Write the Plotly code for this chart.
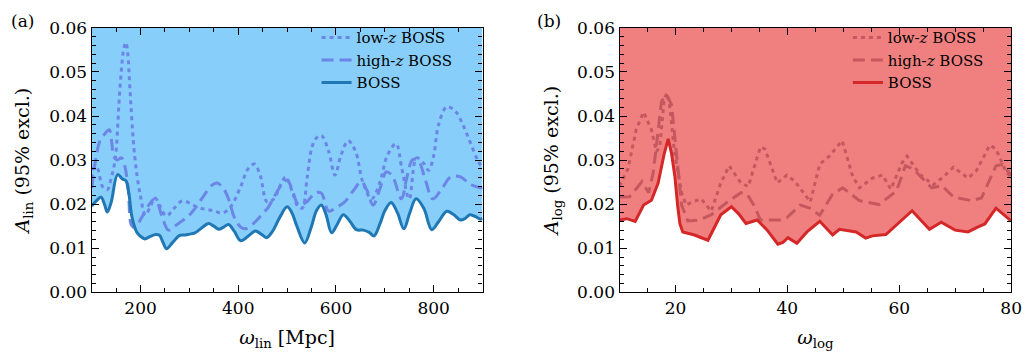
import plotly.graph_objects as go

# ---------------- data: panel (a) linear oscillations ----------------
lin_boss_x = [100,110,119,126,132,140,153,163,170,176,182,192,200,209,220,232,239,246,253,265,280,292,300,310,325,339,350,360,370,380,392,405,420,435,447,458,470,485,500,510,520,536,550,560,570,580,591,603,615,628,642,656,668,678,690,700,713,726,739,751,764,780,796,810,827,840,855,865,874,885,896,900]
lin_boss_y = [0.0196,0.0208,0.0216,0.0200,0.0182,0.0205,0.0267,0.0257,0.0253,0.0225,0.0173,0.0137,0.0127,0.0121,0.0127,0.0131,0.0129,0.0113,0.0099,0.0112,0.0129,0.0130,0.0132,0.0134,0.0146,0.0156,0.0150,0.0143,0.0148,0.0154,0.0138,0.0117,0.0127,0.0139,0.0132,0.0124,0.0138,0.0170,0.0194,0.0180,0.0150,0.0112,0.0150,0.0185,0.0198,0.0175,0.0135,0.0155,0.0176,0.0162,0.0142,0.0141,0.0136,0.0128,0.0155,0.0185,0.0204,0.0180,0.0144,0.0180,0.0212,0.0190,0.0142,0.0160,0.0184,0.0177,0.0164,0.0168,0.0176,0.0172,0.0166,0.0168]

lin_lowz_x = [100,105,112,122,132,140,148,158,166,170,174,178,188,199,210,220,230,240,253,268,285,300,318,335,350,368,385,405,420,433,445,459,473,487,497,510,522,531,541,551,560,570,585,598,610,625,640,655,673,690,705,723,735,750,765,780,790,800,810,827,845,860,875,890,900]
lin_lowz_y = [0.0240,0.0285,0.0280,0.0240,0.0233,0.0260,0.0301,0.0466,0.0555,0.0567,0.0540,0.0466,0.0309,0.0223,0.0175,0.0195,0.0214,0.0195,0.0173,0.0190,0.0207,0.0203,0.0192,0.0188,0.0185,0.0180,0.0195,0.0240,0.0280,0.0291,0.0265,0.0205,0.0212,0.0245,0.0262,0.0230,0.0195,0.0191,0.0260,0.0330,0.0350,0.0356,0.0320,0.0266,0.0310,0.0344,0.0320,0.0250,0.0212,0.0250,0.0310,0.0337,0.0280,0.0212,0.0305,0.0292,0.0277,0.0310,0.0380,0.0421,0.0410,0.0380,0.0340,0.0300,0.0282]

lin_highz_x = [100,108,117,127,136,141,145,152,161,168,175,182,190,200,215,230,243,257,270,285,300,314,330,345,357,370,381,392,405,415,430,445,462,475,489,500,510,524,540,558,570,585,600,618,635,652,664,676,690,703,715,734,745,757,768,783,798,815,835,855,875,896,900]
lin_highz_y = [0.0237,0.0300,0.0344,0.0360,0.0369,0.0340,0.0309,0.0300,0.0305,0.0285,0.0230,0.0151,0.0147,0.0165,0.0195,0.0213,0.0175,0.0141,0.0150,0.0162,0.0175,0.0194,0.0220,0.0242,0.0248,0.0235,0.0209,0.0170,0.0148,0.0144,0.0155,0.0172,0.0194,0.0220,0.0244,0.0255,0.0234,0.0198,0.0205,0.0226,0.0225,0.0184,0.0192,0.0205,0.0230,0.0251,0.0230,0.0198,0.0235,0.0273,0.0265,0.0212,0.0260,0.0301,0.0300,0.0255,0.0212,0.0232,0.0262,0.0262,0.0245,0.0237,0.0237]

# ---------------- data: panel (b) logarithmic oscillations ----------------
log_boss_x = [10,11.3,12.8,14.3,15.7,16.9,18.0,18.7,19.3,19.9,20.4,20.8,21.3,23.4,25.8,27.0,28.1,30.0,31.3,32.6,34.6,36.4,38.3,39.2,40.1,41.7,43.5,45.8,48.1,49.3,52.3,54.0,55.2,57.6,60.0,62.3,65.4,67.5,70.0,72.3,74.0,75.3,77.3,80]
log_boss_y = [0.0164,0.0167,0.0161,0.0198,0.0209,0.0248,0.0315,0.0348,0.0315,0.0262,0.0195,0.0155,0.0137,0.0130,0.0118,0.0150,0.0176,0.0194,0.0178,0.0156,0.0164,0.0141,0.0109,0.0113,0.0124,0.0111,0.0137,0.0161,0.0130,0.0143,0.0137,0.0123,0.0128,0.0131,0.0158,0.0185,0.0143,0.0159,0.0141,0.0137,0.0148,0.0155,0.0191,0.0162]

log_lowz_x = [10,11.5,13.0,14.3,15.7,16.6,17.2,18.0,18.5,19.0,19.8,21.1,21.9,23.0,24.6,26.4,28.1,29.6,31.7,33.0,35.2,36.0,38.2,39.9,41.4,44.1,45.8,47.5,49.8,51.7,52.9,55.2,57.0,58.5,60.5,61.4,63.8,66.1,67.9,69.7,72.3,73.8,76.2,77.3,79.1,80]
log_lowz_y = [0.0241,0.0280,0.0370,0.0409,0.0369,0.0319,0.0330,0.0440,0.0452,0.0420,0.0320,0.0226,0.0198,0.0205,0.0212,0.0184,0.0248,0.0287,0.0248,0.0240,0.0330,0.0325,0.0248,0.0266,0.0251,0.0205,0.0291,0.0309,0.0344,0.0262,0.0237,0.0259,0.0266,0.0234,0.0294,0.0309,0.0266,0.0244,0.0262,0.0284,0.0259,0.0276,0.0334,0.0325,0.0273,0.0262]

log_highz_x = [10,11.8,13.0,14.0,15.2,16.0,16.6,17.5,18.4,19.3,20.2,21.1,22.2,24.3,26.4,29.3,31.7,32.8,34.0,35.2,38.8,39.9,42.3,44.0,45.8,48.1,49.9,52.9,56.4,58.2,59.5,61.1,62.5,64.1,65.8,67.6,69.7,72.9,74.7,77.3,78.5,80]
log_highz_y = [0.0216,0.0217,0.0235,0.0251,0.0226,0.0270,0.0334,0.0433,0.0449,0.0426,0.0312,0.0198,0.0162,0.0164,0.0176,0.0205,0.0226,0.0223,0.0198,0.0164,0.0164,0.0169,0.0198,0.0191,0.0175,0.0223,0.0237,0.0208,0.0199,0.0216,0.0230,0.0287,0.0280,0.0259,0.0237,0.0242,0.0216,0.0208,0.0214,0.0287,0.0290,0.0265]

Y_MAX = 0.06
y_ticks = [0.00, 0.01, 0.02, 0.03, 0.04, 0.05, 0.06]
lin_ticks = [200, 400, 600, 800]
log_ticks = [20, 40, 60, 80]

FONT = "DejaVu Serif"
W, H = 1033, 357

fig = go.Figure()

def add_panel(xs, ys, lx, ly, hx, hy, xa, ya, leg, fillc, mainc, subc, shape):
    fig.add_trace(go.Scatter(x=xs, y=[Y_MAX] * len(xs), mode="lines", line=dict(width=0, shape=shape),
                             showlegend=False, hoverinfo="skip", xaxis=xa, yaxis=ya))
    fig.add_trace(go.Scatter(x=xs, y=ys, mode="lines", line=dict(width=0, shape=shape), fill="tonexty",
                             fillcolor=fillc, showlegend=False, hoverinfo="skip", xaxis=xa, yaxis=ya))
    fig.add_trace(go.Scatter(x=lx, y=ly, mode="lines", name="low-<i>z</i> BOSS",
                             line=dict(color=subc, width=3, dash="4px,4px", shape=shape),
                             xaxis=xa, yaxis=ya, legend=leg))
    fig.add_trace(go.Scatter(x=hx, y=hy, mode="lines", name="high-<i>z</i> BOSS",
                             line=dict(color=subc, width=3, dash="12px,6px", shape=shape),
                             xaxis=xa, yaxis=ya, legend=leg))
    fig.add_trace(go.Scatter(x=xs, y=ys, mode="lines", name="BOSS",
                             line=dict(color=mainc, width=3, shape=shape),
                             xaxis=xa, yaxis=ya, legend=leg))

add_panel(lin_boss_x, lin_boss_y, lin_lowz_x, lin_lowz_y, lin_highz_x, lin_highz_y,
          "x", "y", "legend", "#87CEFA", "#1f77b4", "rgb(108,134,230)", "spline")
add_panel(log_boss_x, log_boss_y, log_lowz_x, log_lowz_y, log_highz_x, log_highz_y,
          "x2", "y2", "legend2", "#F08080", "#d62728", "rgb(196,88,94)", "linear")

axis_common = dict(showline=True, linecolor="black", linewidth=1.3, mirror="allticks",
                   ticks="inside", ticklen=7, tickwidth=1.1, tickcolor="black",
                   showgrid=False, zeroline=False,
                   tickfont=dict(family=FONT, size=17, color="black"))
ydom = [1 - 299 / H, 1 - 19 / H]

fig.update_layout(
    width=W, height=H, margin=dict(l=0, r=0, t=0, b=0),
    paper_bgcolor="white", plot_bgcolor="white",
    font=dict(family=FONT, color="black"),
    xaxis=dict(domain=[92.7 / W, 487.7 / W], range=[100, 900], tickvals=lin_ticks,
               minor=dict(ticks="inside", dtick=50, tick0=0, ticklen=4, tickcolor="black"),
               title=dict(text="<i>ω</i><sub>lin</sub> [Mpc]", font=dict(family=FONT, size=19), standoff=13),
               anchor="y", **axis_common),
    yaxis=dict(domain=ydom, range=[0, Y_MAX], tickvals=y_ticks, tickformat=".2f",
               minor=dict(ticks="inside", dtick=0.002, tick0=0, ticklen=4, tickcolor="black"),
               title=dict(text="<i>A</i><sub>lin</sub> (95% excl.)", font=dict(family=FONT, size=19), standoff=14),
               anchor="x", **axis_common),
    xaxis2=dict(domain=[626.2 / W, 1022 / W], range=[10, 80], tickvals=log_ticks,
                minor=dict(ticks="inside", dtick=5, tick0=0, ticklen=4, tickcolor="black"),
                title=dict(text="<i>ω</i><sub>log</sub>", font=dict(family=FONT, size=19), standoff=13),
                anchor="y2", **axis_common),
    yaxis2=dict(domain=ydom, range=[0, Y_MAX], tickvals=y_ticks, tickformat=".2f",
                minor=dict(ticks="inside", dtick=0.002, tick0=0, ticklen=4, tickcolor="black"),
                title=dict(text="<i>A</i><sub>log</sub> (95% excl.)", font=dict(family=FONT, size=19), standoff=13),
                anchor="x2", **axis_common),
    legend=dict(x=320 / W, y=1 - 12 / H, xanchor="left", yanchor="top", bgcolor="rgba(0,0,0,0)",
                font=dict(family=FONT, size=15, color="black"), tracegroupgap=0, traceorder="normal"),
    legend2=dict(x=857 / W, y=1 - 12 / H, xanchor="left", yanchor="top", bgcolor="rgba(0,0,0,0)",
                 font=dict(family=FONT, size=15, color="black"), tracegroupgap=0, traceorder="normal"),
    annotations=[
        dict(text="(a)", x=23 / W, y=1 - 12 / H, xref="paper", yref="paper", showarrow=False,
             xanchor="center", yanchor="middle", font=dict(family=FONT, size=17, color="black")),
        dict(text="(b)", x=555 / W, y=1 - 12 / H, xref="paper", yref="paper", showarrow=False,
             xanchor="center", yanchor="middle", font=dict(family=FONT, size=17, color="black")),
    ],
)

fig.write_html("out.html")
